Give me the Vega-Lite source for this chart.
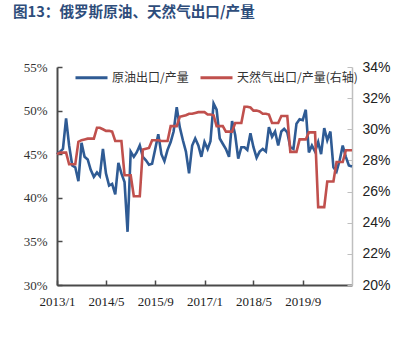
{
  "$schema": "https://vega.github.io/schema/vega-lite/v6.json",
  "width": 295,
  "height": 218,
  "autosize": {"type": "none"},
  "padding": {"left": 57, "top": 67, "right": 49, "bottom": 57},
  "background": "white",
  "title": {"text": "图13：俄罗斯原油、天然气出口/产量", "anchor": "start", "frame": "group", "dx": -44, "offset": 40, "font": "Noto Sans CJK SC", "fontSize": 14.6, "fontWeight": "bold", "color": "#2e4d7b"},
  "config": {"view": {"stroke": null}, "axis": {"grid": false}},
  "data": {"values": [
    {"d":"2013/1/1","oil":45.0,"gas":28.4},{"d":"2013/2/1","oil":45.3,"gas":28.5},{"d":"2013/3/1","oil":45.6,"gas":28.5},{"d":"2013/4/1","oil":49.1,"gas":28.5},
    {"d":"2013/5/1","oil":46.0,"gas":27.75},{"d":"2013/6/1","oil":43.7,"gas":27.75},{"d":"2013/7/1","oil":43.5,"gas":27.75},{"d":"2013/8/1","oil":41.9,"gas":29.2},
    {"d":"2013/9/1","oil":46.3,"gas":29.3},{"d":"2013/10/1","oil":44.7,"gas":29.35},{"d":"2013/11/1","oil":44.4,"gas":29.4},{"d":"2013/12/1","oil":43.2,"gas":29.4},
    {"d":"2014/1/1","oil":42.4,"gas":29.4},{"d":"2014/2/1","oil":42.9,"gas":30.1},{"d":"2014/3/1","oil":42.5,"gas":30.1},{"d":"2014/4/1","oil":45.6,"gas":30.0},
    {"d":"2014/5/1","oil":42.8,"gas":29.9},{"d":"2014/6/1","oil":41.4,"gas":29.9},{"d":"2014/7/1","oil":41.6,"gas":29.85},{"d":"2014/8/1","oil":40.4,"gas":29.25},
    {"d":"2014/9/1","oil":44.0,"gas":29.25},{"d":"2014/10/1","oil":42.8,"gas":29.25},{"d":"2014/11/1","oil":41.8,"gas":27.05},{"d":"2014/12/1","oil":36.1,"gas":27.05},
    {"d":"2015/1/1","oil":45.3,"gas":27.05},{"d":"2015/2/1","oil":44.7,"gas":25.7},{"d":"2015/3/1","oil":45.2,"gas":25.7},{"d":"2015/4/1","oil":46.0,"gas":25.7},
    {"d":"2015/5/1","oil":44.7,"gas":28.7},{"d":"2015/6/1","oil":44.3,"gas":28.75},{"d":"2015/7/1","oil":43.8,"gas":28.8},{"d":"2015/8/1","oil":43.9,"gas":29.3},
    {"d":"2015/9/1","oil":45.6,"gas":29.3},{"d":"2015/10/1","oil":47.3,"gas":29.3},{"d":"2015/11/1","oil":45.0,"gas":29.25},{"d":"2015/12/1","oil":44.2,"gas":29.25},
    {"d":"2016/1/1","oil":45.5,"gas":29.25},{"d":"2016/2/1","oil":46.4,"gas":30.2},{"d":"2016/3/1","oil":47.6,"gas":30.2},{"d":"2016/4/1","oil":50.4,"gas":30.2},
    {"d":"2016/5/1","oil":48.1,"gas":30.8},{"d":"2016/6/1","oil":46.6,"gas":30.85},{"d":"2016/7/1","oil":45.3,"gas":30.9},{"d":"2016/8/1","oil":42.8,"gas":31.0},
    {"d":"2016/9/1","oil":46.0,"gas":31.0},{"d":"2016/10/1","oil":46.8,"gas":31.05},{"d":"2016/11/1","oil":46.0,"gas":31.1},{"d":"2016/12/1","oil":44.7,"gas":31.1},
    {"d":"2017/1/1","oil":46.4,"gas":31.1},{"d":"2017/2/1","oil":45.6,"gas":30.95},{"d":"2017/3/1","oil":46.5,"gas":30.95},{"d":"2017/4/1","oil":50.8,"gas":30.9},
    {"d":"2017/5/1","oil":50.1,"gas":30.2},{"d":"2017/6/1","oil":46.8,"gas":30.2},{"d":"2017/7/1","oil":46.2,"gas":30.2},{"d":"2017/8/1","oil":45.6,"gas":29.85},
    {"d":"2017/9/1","oil":44.7,"gas":29.85},{"d":"2017/10/1","oil":48.8,"gas":29.85},{"d":"2017/11/1","oil":47.2,"gas":30.4},{"d":"2017/12/1","oil":44.5,"gas":30.4},
    {"d":"2018/1/1","oil":45.8,"gas":30.4},{"d":"2018/2/1","oil":45.8,"gas":31.45},{"d":"2018/3/1","oil":45.5,"gas":31.45},{"d":"2018/4/1","oil":47.4,"gas":31.4},
    {"d":"2018/5/1","oil":45.8,"gas":31.2},{"d":"2018/6/1","oil":44.6,"gas":31.2},{"d":"2018/7/1","oil":45.3,"gas":31.15},{"d":"2018/8/1","oil":45.6,"gas":31.0},
    {"d":"2018/9/1","oil":45.3,"gas":31.0},{"d":"2018/10/1","oil":48.1,"gas":30.95},{"d":"2018/11/1","oil":47.0,"gas":30.4},{"d":"2018/12/1","oil":47.6,"gas":30.4},
    {"d":"2019/1/1","oil":46.0,"gas":30.4},{"d":"2019/2/1","oil":47.6,"gas":30.85},{"d":"2019/3/1","oil":47.9,"gas":30.85},{"d":"2019/4/1","oil":47.5,"gas":30.85},
    {"d":"2019/5/1","oil":45.8,"gas":28.55},{"d":"2019/6/1","oil":45.6,"gas":28.55},{"d":"2019/7/1","oil":48.5,"gas":28.55},{"d":"2019/8/1","oil":49.0,"gas":29.35},
    {"d":"2019/9/1","oil":48.9,"gas":29.35},{"d":"2019/10/1","oil":50.1,"gas":29.35},{"d":"2019/11/1","oil":45.2,"gas":29.8},{"d":"2019/12/1","oil":46.0,"gas":29.8},
    {"d":"2020/1/1","oil":45.3,"gas":29.8},{"d":"2020/2/1","oil":46.4,"gas":25.0},{"d":"2020/3/1","oil":45.0,"gas":25.0},{"d":"2020/4/1","oil":48.0,"gas":25.0},
    {"d":"2020/5/1","oil":46.6,"gas":26.65},{"d":"2020/6/1","oil":47.6,"gas":26.65},{"d":"2020/7/1","oil":43.5,"gas":26.65},{"d":"2020/8/1","oil":43.0,"gas":27.9},
    {"d":"2020/9/1","oil":44.3,"gas":27.9},{"d":"2020/10/1","oil":46.0,"gas":27.9},{"d":"2020/11/1","oil":44.7,"gas":28.65},{"d":"2020/12/1","oil":43.7,"gas":28.65},
    {"d":"2021/1/1","oil":43.6,"gas":28.65}
  ]},
  "encoding": {
    "x": {
      "field": "d", "type": "temporal",
      "scale": {"domain": [{"year": 2013, "month": 1, "date": 1}, {"year": 2021, "month": 1, "date": 1}]},
      "axis": {
        "title": null,
        "values": [{"year": 2013, "month": 1, "date": 1}, {"year": 2014, "month": 5, "date": 1}, {"year": 2015, "month": 9, "date": 1}, {"year": 2017, "month": 1, "date": 1}, {"year": 2018, "month": 5, "date": 1}, {"year": 2019, "month": 9, "date": 1}],
        "format": "%Y/%-m",
        "labelFlush": false,
        "labelOverlap": false,
        "labelFont": "Liberation Serif",
        "labelFontSize": 13,
        "labelColor": "#222222",
        "labelPadding": 15,
        "domainColor": "#4a4a4a",
        "domainWidth": 2,
        "tickColor": "#4a4a4a",
        "tickWidth": 1.5,
        "tickSize": -5
      }
    }
  },
  "layer": [
    {
      "mark": {"type": "line", "strokeWidth": 2.6},
      "encoding": {
        "y": {
          "field": "oil", "type": "quantitative",
          "scale": {"domain": [30, 55], "nice": false},
          "axis": {
            "orient": "left", "title": null,
            "values": [30, 35, 40, 45, 50, 55],
            "labelExpr": "datum.value + '%'",
            "labelFont": "Liberation Serif", "labelFontSize": 13, "labelColor": "#333333",
            "labelPadding": 15,
            "domainColor": "#4a4a4a", "domainWidth": 2,
            "tickColor": "#4a4a4a", "tickWidth": 1.5, "tickSize": -5
          }
        },
        "color": {
          "datum": "原油出口/产量", "type": "nominal",
          "scale": {"domain": ["原油出口/产量", "天然气出口/产量(右轴)"], "range": ["#2f5b94", "#c0504d"]},
          "legend": {
            "title": null, "orient": "none", "direction": "horizontal",
            "legendX": 17, "legendY": -7,
            "symbolType": "stroke", "symbolSize": 1024, "symbolStrokeWidth": 3,
            "labelFont": "Noto Sans CJK SC", "labelFontSize": 12, "labelColor": "#333333",
            "labelOffset": 3, "columnPadding": 5
          }
        }
      }
    },
    {
      "mark": {"type": "line", "strokeWidth": 2.6},
      "encoding": {
        "y": {
          "field": "gas", "type": "quantitative",
          "scale": {"domain": [20, 34], "nice": false},
          "axis": {
            "orient": "right", "title": null,
            "values": [20, 22, 24, 26, 28, 30, 32, 34],
            "labelExpr": "datum.value + '%'",
            "labelFont": "Liberation Sans", "labelFontSize": 14, "labelColor": "#222222",
            "labelPadding": 15,
            "domainColor": "#bfbfbf", "domainWidth": 1.5,
            "tickColor": "#bfbfbf", "tickWidth": 1, "tickSize": -5
          }
        },
        "color": {"datum": "天然气出口/产量(右轴)", "type": "nominal"}
      }
    }
  ],
  "resolve": {"scale": {"y": "independent"}}
}
